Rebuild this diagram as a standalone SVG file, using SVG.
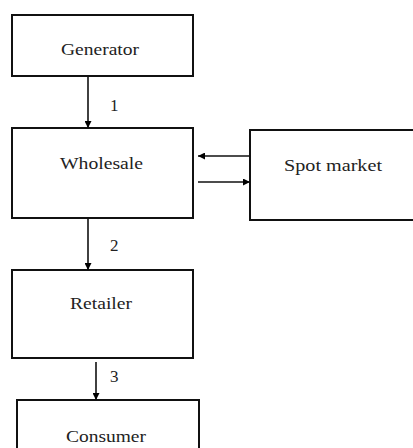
<svg xmlns="http://www.w3.org/2000/svg" width="413" height="448" viewBox="0 0 413 448">
<defs>
<style>
.box{fill:#fff;stroke:#111;stroke-width:2}
.lbl{font-family:"Liberation Serif","Times New Roman",serif;font-size:16px;fill:#222}
.num{font-family:"Liberation Serif","Times New Roman",serif;font-size:17px;fill:#222}
.con{stroke:#111;stroke-width:1.6;fill:none}
</style>
<marker id="ah" viewBox="0 0 7 7" refX="7" refY="3.5" markerWidth="7" markerHeight="7" markerUnits="userSpaceOnUse" orient="auto">
<path d="M0,0 L7,3.5 L0,7 Z" fill="#000"/>
</marker>
</defs>
<rect width="413" height="448" fill="#fff"/>
<g id="generator">
<rect class="box" x="12" y="15" width="181" height="61"/>
<text class="lbl" x="61" y="55" textLength="78" lengthAdjust="spacingAndGlyphs">Generator</text>
</g>
<g id="wholesale">
<rect class="box" x="12" y="128" width="181" height="90"/>
<text class="lbl" x="60" y="169" textLength="83" lengthAdjust="spacingAndGlyphs">Wholesale</text>
</g>
<g id="spot-market">
<rect class="box" x="250" y="130" width="170" height="90"/>
<text class="lbl" x="284" y="171" textLength="98" lengthAdjust="spacingAndGlyphs">Spot market</text>
</g>
<g id="retailer">
<rect class="box" x="12" y="270" width="181" height="88"/>
<text class="lbl" x="70" y="309" textLength="62" lengthAdjust="spacingAndGlyphs">Retailer</text>
</g>
<g id="consumer">
<rect class="box" x="17" y="400" width="182" height="60"/>
<text class="lbl" x="66" y="442" textLength="80" lengthAdjust="spacingAndGlyphs">Consumer</text>
</g>
<g id="connectors">
<line class="con" x1="88" y1="76" x2="88" y2="128" marker-end="url(#ah)"/>
<line class="con" x1="250" y1="156" x2="198" y2="156" marker-end="url(#ah)"/>
<line class="con" x1="198" y1="182" x2="250" y2="182" marker-end="url(#ah)"/>
<line class="con" x1="88" y1="218" x2="88" y2="270" marker-end="url(#ah)"/>
<line class="con" x1="96" y1="362" x2="96" y2="400" marker-end="url(#ah)"/>
<text class="num" x="110" y="111">1</text>
<text class="num" x="110" y="251">2</text>
<text class="num" x="110" y="382">3</text>
</g>
</svg>
